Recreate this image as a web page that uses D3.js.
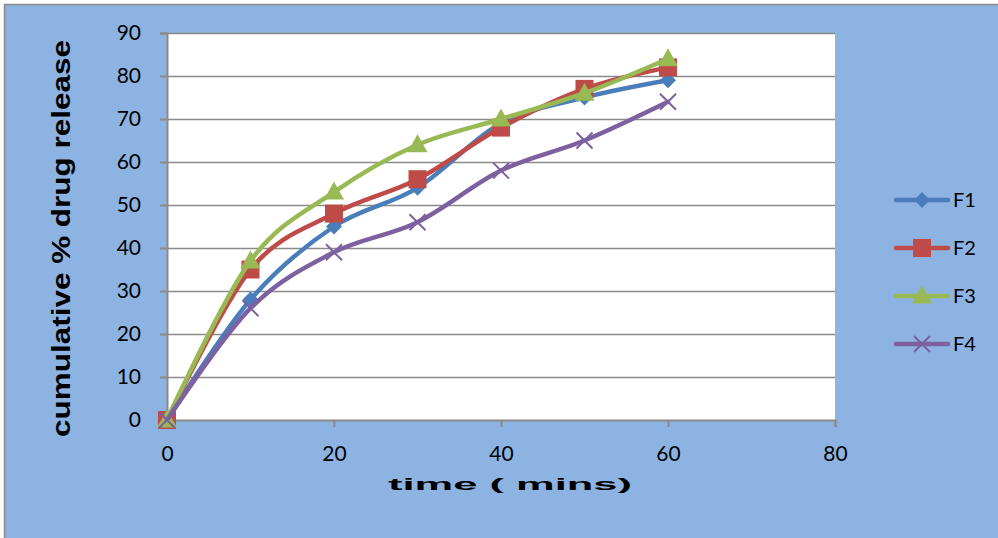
<!DOCTYPE html>
<html>
<head>
<meta charset="utf-8">
<script src="https://cdn.jsdelivr.net/npm/d3@7"></script>
<style>
  html, body { margin: 0; padding: 0; background: #ffffff; }
  svg { display: block; }
</style>
</head>
<body>
<svg id="chart" width="998" height="538"></svg>
<script>
// Dissolution profile: cumulative % drug release over time
const times = [0, 10, 20, 30, 40, 50, 60];
const F1 = [0, 28, 45, 54, 69, 75, 79];
const F2 = [0, 35, 48, 56, 68, 77, 82];
const F3 = [0, 37, 53, 64, 70, 76, 84];
const F4 = [0, 26, 39, 46, 58, 65, 74];
const seriesNames = ["F1", "F2", "F3", "F4"];
const xTicks = [0, 20, 40, 60, 80];
const yTicks = [0, 10, 20, 30, 40, 50, 60, 70, 80, 90];

const seriesData = [F1, F2, F3, F4];
const colors = ["#4A7EBB", "#BE4B48", "#98B954", "#7D60A0"];
const markers = ["diamond", "square", "triangle", "cross"];

const svg = d3.select("#chart");
const W = 998, H = 538;
const plot = { left: 167, right: 835, top: 33, bottom: 420 };

// chart background and frame
svg.append("rect").attr("x", 4).attr("y", 4).attr("width", W - 4).attr("height", H - 4)
  .attr("fill", "#8DB3E2");
svg.append("path").attr("d", `M4.5,${H} V4.5 H${W}`).attr("fill", "none")
  .attr("stroke", "#8c8c8c").attr("stroke-width", 1.5);

const x = d3.scaleLinear().domain([0, 80]).range([plot.left, plot.right]);
const y = d3.scaleLinear().domain([0, 90]).range([plot.bottom, plot.top]);

// plot area
svg.append("rect").attr("x", plot.left).attr("y", plot.top)
  .attr("width", plot.right - plot.left).attr("height", plot.bottom - plot.top)
  .attr("fill", "#ffffff");

// horizontal gridlines
svg.append("g").selectAll("line").data(yTicks.filter(d => d > 0)).join("line")
  .attr("x1", plot.left).attr("x2", plot.right)
  .attr("y1", d => Math.round(y(d)) + 0.5).attr("y2", d => Math.round(y(d)) + 0.5)
  .attr("stroke", "#8a8a8a").attr("stroke-width", 1.5);

// axes
const yAxis = svg.append("g").attr("transform", `translate(${plot.left},0)`)
  .call(d3.axisLeft(y).tickValues(yTicks).tickSize(7).tickPadding(19).tickFormat(d3.format("d")));
const xAxis = svg.append("g").attr("transform", `translate(0,${plot.bottom})`)
  .call(d3.axisBottom(x).tickValues(xTicks).tickSize(7).tickPadding(14).tickFormat(d3.format("d")));
[yAxis, xAxis].forEach(a => {
  a.select(".domain").attr("stroke", "#8a8a8a").attr("stroke-width", 2);
  a.selectAll(".tick line").attr("stroke", "#8a8a8a").attr("stroke-width", 2);
  a.selectAll(".tick text").attr("fill", "#000").style("font-family", "Lato, 'Open Sans', sans-serif")
    .style("font-size", "21px");
});
xAxis.selectAll(".tick text").attr("y", 34).attr("dy", "0.35em");

// axis titles
svg.append("text")
  .attr("transform", `translate(70,${(plot.top + plot.bottom) / 2 + 12}) rotate(-90)`)
  .attr("text-anchor", "middle")
  .attr("textLength", 397).attr("lengthAdjust", "spacingAndGlyphs")
  .style("font-family", "'Liberation Sans', Arial, sans-serif").style("font-weight", "bold")
  .style("font-size", "26px").attr("fill", "#000")
  .text("cumulative % drug release");

svg.append("text")
  .attr("x", 510).attr("y", 490)
  .attr("text-anchor", "middle")
  .attr("textLength", 244).attr("lengthAdjust", "spacingAndGlyphs")
  .style("font-family", "'Liberation Sans', Arial, sans-serif").style("font-weight", "bold")
  .style("font-size", "17px").attr("fill", "#000")
  .text("time ( mins)");

// marker drawing
function drawMarker(g, type, cx, cy, color, scale) {
  const s = scale || 1;
  if (type === "diamond") {
    const r = 8 * s;
    g.append("path").attr("d", `M${cx},${cy - r} L${cx + r},${cy} L${cx},${cy + r} L${cx - r},${cy} Z`)
      .attr("fill", color);
  } else if (type === "square") {
    const r = 9 * s;
    g.append("rect").attr("x", cx - r).attr("y", cy - r).attr("width", 2 * r).attr("height", 2 * r)
      .attr("fill", color);
  } else if (type === "triangle") {
    const r = 10 * s;
    g.append("path").attr("d", `M${cx},${cy - r * 1.05} L${cx + r},${cy + r * 0.75} L${cx - r},${cy + r * 0.75} Z`)
      .attr("fill", color);
  } else {
    const r = 8 * s;
    g.append("path").attr("d", `M${cx - r},${cy - r} L${cx + r},${cy + r} M${cx + r},${cy - r} L${cx - r},${cy + r}`)
      .attr("stroke", color).attr("stroke-width", 2).attr("fill", "none");
  }
}

const line = d3.line()
  .x((d, i) => x(times[i]))
  .y(d => y(d))
  .curve(d3.curveCardinal.tension(0));

seriesData.forEach((vals, k) => {
  const g = svg.append("g");
  g.append("path").datum(vals).attr("d", line)
    .attr("fill", "none").attr("stroke", colors[k]).attr("stroke-width", 4.5)
    .attr("stroke-linejoin", "round").attr("stroke-linecap", "round");
  vals.forEach((v, i) => drawMarker(g, markers[k], x(times[i]), y(v), colors[k]));
});

// legend
const legendY = [200, 248, 296, 344];
seriesNames.forEach((name, k) => {
  const g = svg.append("g");
  const ly = legendY[k];
  g.append("line").attr("x1", 896).attr("x2", 948).attr("y1", ly).attr("y2", ly)
    .attr("stroke", colors[k]).attr("stroke-width", 4.5).attr("stroke-linecap", "round");
  drawMarker(g, markers[k], 922, ly, colors[k]);
  g.append("text").attr("x", 953).attr("y", ly).attr("dy", "0.35em")
    .style("font-family", "Lato, 'Open Sans', sans-serif").style("font-size", "20px")
    .attr("fill", "#000").text(name);
});
</script>
</body>
</html>
